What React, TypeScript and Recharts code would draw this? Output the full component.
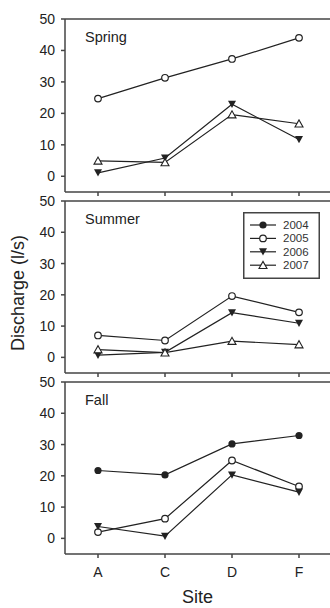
import React from "react";
import { Label, Legend, Line, LineChart, ReferenceLine, XAxis, YAxis } from "recharts";

const sites = ["A", "C", "D", "F"];
const yTicks = [0, 10, 20, 30, 40, 50];
const years = ["2004", "2005", "2006", "2007"];

const spring2005 = [24.7, 31.3, 37.3, 44.0];
const spring2006 = [1.1, 5.8, 22.9, 11.7];
const spring2007 = [4.9, 4.4, 19.6, 16.7];

const summer2005 = [7.0, 5.4, 19.6, 14.4];
const summer2006 = [0.7, 1.6, 14.3, 10.9];
const summer2007 = [2.5, 1.5, 5.2, 4.1];

const fall2004 = [21.7, 20.3, 30.2, 32.9];
const fall2005 = [2.0, 6.3, 24.9, 16.6];
const fall2006 = [3.8, 0.7, 20.3, 14.8];

const ink = "#222";
const frame = "#444";
const font = '"Liberation Sans", Arial, sans-serif';

function Marker({ cx, cy, year }: { cx: number; cy: number; year: string }) {
  if (cx == null || cy == null) return null;
  if (year === "2004") return <circle cx={cx} cy={cy} r={3.6} fill={ink} />;
  if (year === "2005") return <circle cx={cx} cy={cy} r={3.3} fill="#fff" stroke={ink} strokeWidth={1.2} />;
  if (year === "2006")
    return <polygon points={`${cx - 4},${cy - 3.5} ${cx + 4},${cy - 3.5} ${cx},${cy + 3.8}`} fill={ink} />;
  return (
    <polygon
      points={`${cx - 4},${cy + 3.3} ${cx + 4},${cy + 3.3} ${cx},${cy - 3.8}`}
      fill="#fff"
      stroke={ink}
      strokeWidth={1.1}
    />
  );
}

function LegendBox() {
  return (
    <svg width={77} height={67} style={{ display: "block", fontFamily: font }}>
      <rect x={0.75} y={0.75} width={75.5} height={65.5} fill="#fff" stroke={frame} strokeWidth={1.5} />
      {years.map((y, i) => {
        const cy = 13 + i * 13.4;
        return (
          <g key={y}>
            <line x1={7} x2={33} y1={cy} y2={cy} stroke={ink} strokeWidth={1.2} />
            <Marker cx={20} cy={cy} year={y} />
            <text x={40} y={cy + 4} fontSize={11.5} fill="#333">
              {y}
            </text>
          </g>
        );
      })}
    </svg>
  );
}

type Series = { year: string; values: number[] };

function Panel({
  title,
  series,
  top,
  height,
  marginTop,
  bottomAxis,
  legend,
  yLabel,
}: {
  title: string;
  series: Series[];
  top: number;
  height: number;
  marginTop: number;
  bottomAxis?: boolean;
  legend?: boolean;
  yLabel?: boolean;
}) {
  const rows = sites.map((site, i) => {
    const row: Record<string, string | number> = { site };
    series.forEach((s) => (row[s.year] = s.values[i]));
    return row;
  });

  return (
    <div style={{ position: "absolute", left: 0, top, width: 330, height }}>
      <LineChart width={330} height={height} data={rows} margin={{ top: marginTop, right: 0, bottom: 0, left: 0 }}>
        <XAxis
          dataKey="site"
          padding={{ left: 33, right: 31 }}
          height={bottomAxis ? 54 : 8}
          tickSize={4}
          tickMargin={9}
          stroke={frame}
          strokeWidth={1.5}
          tick={{ fill: ink, fontSize: 14 }}
          tickFormatter={bottomAxis ? undefined : () => ""}
          interval={0}
        >
          {bottomAxis && (
            <Label value="Site" position="insideBottom" offset={5} style={{ fontSize: 18, fill: ink }} />
          )}
        </XAxis>
        <YAxis
          width={65}
          domain={[-5, 50]}
          ticks={yTicks}
          tickSize={4}
          tickMargin={6}
          stroke={frame}
          strokeWidth={1.5}
          tick={{ fill: ink, fontSize: 14 }}
          allowDataOverflow
        >
          {yLabel && (
            <Label
              content={() => (
                <text
                  transform={`translate(18,${101}) rotate(-90)`}
                  textAnchor="middle"
                  dominantBaseline="central"
                  fontSize={18}
                  fill={ink}
                >
                  Discharge (l/s)
                </text>
              )}
            />
          )}
        </YAxis>
        <ReferenceLine
          y={50}
          stroke={frame}
          strokeWidth={1.5}
          ifOverflow="visible"
          label={(p: any) => {
            const vb = p?.viewBox ?? { x: 65, y: marginTop };
            return (
              <text x={vb.x + 20} y={vb.y + 23} fontSize={14.5} fill={ink}>
                {title}
              </text>
            );
          }}
        />
        {series.map((s) => (
          <Line
            key={s.year}
            dataKey={s.year}
            type="linear"
            stroke={ink}
            strokeWidth={1.2}
            isAnimationActive={false}
            dot={(p: any) => <Marker key={`${s.year}-${p.index}`} cx={p.cx} cy={p.cy} year={s.year} />}
            activeDot={false}
          />
        ))}
        {legend && (
          <Legend
            layout="vertical"
            align="center"
            verticalAlign="middle"
            content={() => <LegendBox />}
            wrapperStyle={{ left: 243, top: 20, width: 77, height: 67 }}
          />
        )}
      </LineChart>
    </div>
  );
}

export default function App() {
  return (
    <div style={{ position: "absolute", left: 0, top: 0, width: 330, height: 608, background: "#fff", fontFamily: font }}>
      <Panel
        title="Spring"
        top={0}
        height={200}
        marginTop={19}
        series={[
          { year: "2005", values: spring2005 },
          { year: "2006", values: spring2006 },
          { year: "2007", values: spring2007 },
        ]}
      />
      <Panel
        title="Summer"
        top={192}
        height={189}
        marginTop={9}
        legend
        yLabel
        series={[
          { year: "2005", values: summer2005 },
          { year: "2006", values: summer2006 },
          { year: "2007", values: summer2007 },
        ]}
      />
      <Panel
        title="Fall"
        top={373}
        height={235}
        marginTop={9}
        bottomAxis
        series={[
          { year: "2004", values: fall2004 },
          { year: "2005", values: fall2005 },
          { year: "2006", values: fall2006 },
        ]}
      />
    </div>
  );
}
